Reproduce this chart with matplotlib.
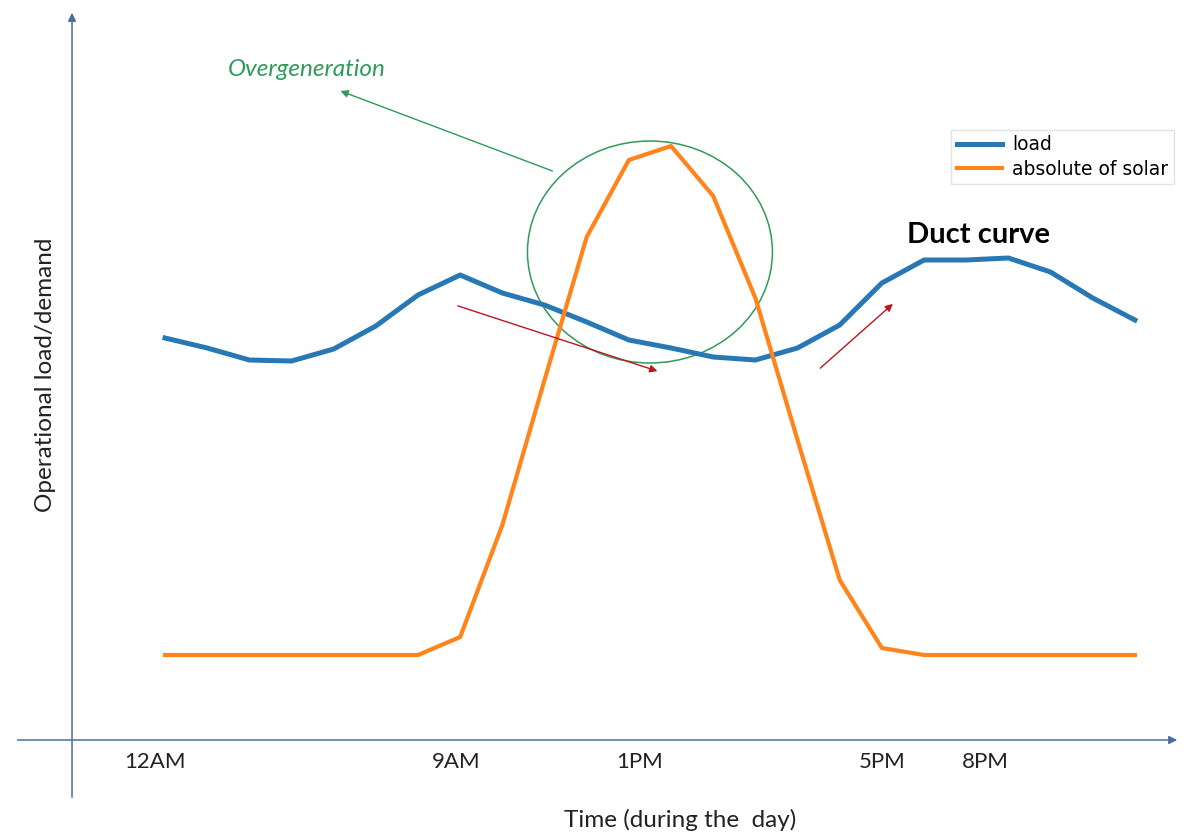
import numpy as np
import matplotlib.pyplot as plt
from matplotlib.patches import Ellipse

# hourly values, arbitrary units
hours = np.arange(24)
load = [4.02, 3.92, 3.80, 3.79, 3.91, 4.14, 4.45, 4.65, 4.47, 4.35, 4.18, 4.00,
        3.92, 3.83, 3.80, 3.92, 4.15, 4.57, 4.80, 4.80, 4.82, 4.68, 4.42, 4.20]
solar = [0.85, 0.85, 0.85, 0.85, 0.85, 0.85, 0.85, 1.03, 2.15, 3.60, 5.03, 5.80,
         5.94, 5.44, 4.42, 3.00, 1.60, 0.92, 0.85, 0.85, 0.85, 0.85, 0.85, 0.85]

tick_labels = ['12AM', '9AM', '1PM', '5PM', '8PM']
tick_hours = [-0.25, 6.9, 11.25, 17.0, 19.45]

FONT = 'Lato'
AXIS_COL = '#4a6e9c'
GREEN = '#2f9a5a'

fig = plt.figure(figsize=(11.93, 8.36), dpi=100)
ax = fig.add_axes([0, 0, 1, 1])
ax.set_xlim(-3.913, 24.378)
ax.set_ylim(-0.96, 7.40)
ax.axis('off')

ax.plot(hours, load, color='#2878b5', lw=3.6, label='load', solid_joinstyle='round')
ax.plot(hours, solar, color='#ff8419', lw=3.0, label='absolute of solar', solid_joinstyle='round')

# hand-drawn style axes
ax.annotate('', xy=(24.07, 0), xytext=(-3.56, 0),
            arrowprops=dict(arrowstyle='-|>', color=AXIS_COL, lw=1.1, mutation_scale=12))
ax.annotate('', xy=(-2.205, 7.30), xytext=(-2.205, -0.60),
            arrowprops=dict(arrowstyle='-|>', color=AXIS_COL, lw=1.1, mutation_scale=12))

for h, lab in zip(tick_hours, tick_labels):
    ax.text(h, -0.28, lab, ha='center', va='baseline', fontsize=16, family=FONT, color='#222222')

ax.text(-2.83, 3.65, 'Operational load/demand', rotation=90, ha='center', va='center',
        fontsize=17.5, family=FONT, color='#222222')
ax.text(12.21, -0.80, 'Time (during the  day)', ha='center', va='center',
        fontsize=17.5, family=FONT, color='#222222')

# overgeneration marker
ax.add_patch(Ellipse((11.5, 4.88), 5.81, 2.22, fill=False, ec=GREEN, lw=1.1))
ax.annotate('', xy=(4.10, 6.50), xytext=(9.25, 5.68),
            arrowprops=dict(arrowstyle='-|>', color=GREEN, lw=1.0, mutation_scale=11))
ax.text(1.49, 6.70, 'Overgeneration', ha='left', va='center', fontsize=17.5,
        style='italic', family=FONT, color=GREEN)

# trend arrows
ax.annotate('', xy=(11.74, 3.68), xytext=(6.88, 4.35),
            arrowprops=dict(arrowstyle='-|>', color='#c0141e', lw=1.0, mutation_scale=11))
ax.annotate('', xy=(17.31, 4.38), xytext=(15.49, 3.70),
            arrowprops=dict(arrowstyle='-|>', color='#c0141e', lw=1.0, mutation_scale=11))

ax.text(17.60, 5.05, 'Duct curve', ha='left', va='center', fontsize=21,
        fontweight='bold', family=FONT, color='black')

ax.legend(loc='upper right', bbox_to_anchor=(0.984, 0.845), fontsize=13.5,
          frameon=True, edgecolor='#dddddd', fancybox=False, handlelength=2.4,
          handletextpad=0.55, labelspacing=0.3, borderpad=0.3, borderaxespad=0)

fig.savefig('out.png', dpi=100)
